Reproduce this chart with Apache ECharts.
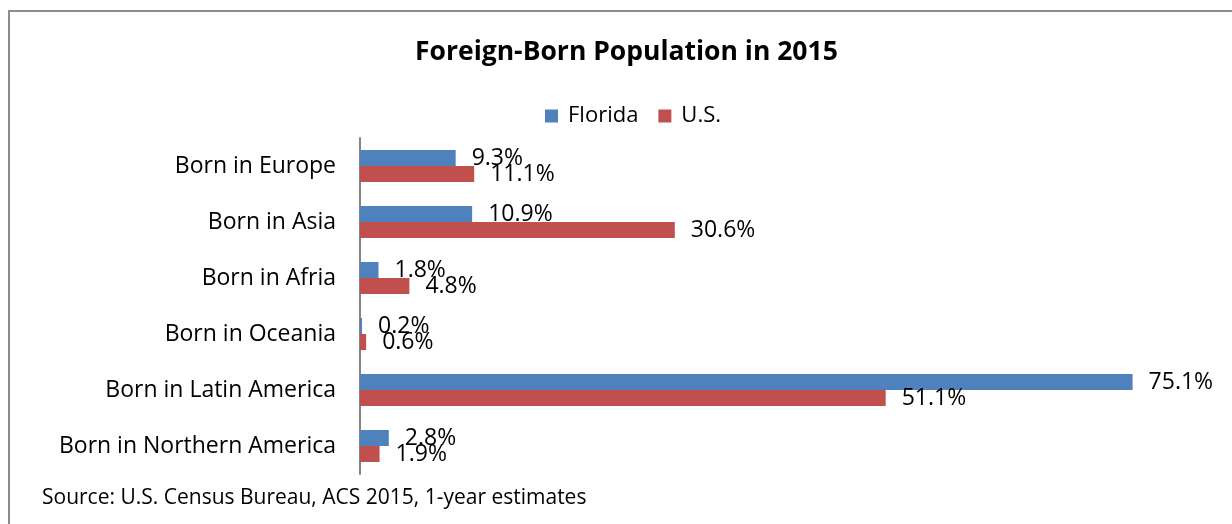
<!DOCTYPE html>
<html>
<head>
<meta charset="utf-8">
<script src="https://cdn.jsdelivr.net/npm/echarts@6/dist/echarts.min.js"></script>
<style>
  html, body { margin: 0; padding: 0; background: #fff; }
  #chart { width: 1232px; height: 524px; }
</style>
</head>
<body>
<div id="chart"></div>
<script>
const categories = ['Born in Europe', 'Born in Asia', 'Born in Afria', 'Born in Oceania', 'Born in Latin America', 'Born in Northern America'];
const florida = [9.3, 10.9, 1.8, 0.2, 75.1, 2.8];
const us = [11.1, 30.6, 4.8, 0.6, 51.1, 1.9];

const font = 'Open Sans';

const chart = echarts.init(document.getElementById('chart'));

const barLabel = {
  show: true,
  position: 'right',
  distance: 16,
  color: '#000',
  fontFamily: font,
  fontSize: 23,
  formatter: (p) => p.value.toFixed(1) + '%'
};

chart.setOption({
  animation: false,
  title: {
    text: 'Foreign-Born Population in 2015',
    left: 410,
    top: 34,
    textStyle: { fontFamily: font, fontSize: 26.5, fontWeight: 'bold', color: '#000' }
  },
  legend: {
    top: 100,
    left: 540,
    itemWidth: 13,
    itemHeight: 13,
    itemGap: 20,
    icon: 'rect',
    textStyle: { fontFamily: font, fontSize: 22, color: '#000', padding: [0, 0, 0, 5] },
    data: ['Florida', 'U.S.']
  },
  grid: { left: 360, top: 138, width: 823, height: 336, containLabel: false },
  xAxis: {
    type: 'value',
    min: 0,
    max: 80,
    show: false
  },
  yAxis: {
    type: 'category',
    data: categories,
    inverse: true,
    axisLine: { lineStyle: { color: '#868686', width: 2 } },
    axisTick: { length: 7, lineStyle: { color: '#868686', width: 2 } },
    axisLabel: { color: '#000', fontFamily: font, fontSize: 23, margin: 24 }
  },
  series: [
    {
      name: 'Florida',
      type: 'bar',
      data: florida,
      barWidth: 16,
      barGap: '0%',
      itemStyle: { color: '#4f81bd' },
      label: barLabel
    },
    {
      name: 'U.S.',
      type: 'bar',
      data: us,
      barWidth: 16,
      itemStyle: { color: '#c0504d' },
      label: barLabel
    }
  ],
  graphic: [
    {
      type: 'rect',
      shape: { x: 9, y: 11, width: 1260, height: 540 },
      style: { fill: 'none', stroke: '#8c8c8c', lineWidth: 2 },
      silent: true
    },
    {
      type: 'text',
      left: 42,
      top: 488,
      style: { text: 'Source: U.S. Census Bureau, ACS 2015, 1-year estimates', fill: '#000', font: '21px "Open Sans"' }
    }
  ]
});
</script>
</body>
</html>
